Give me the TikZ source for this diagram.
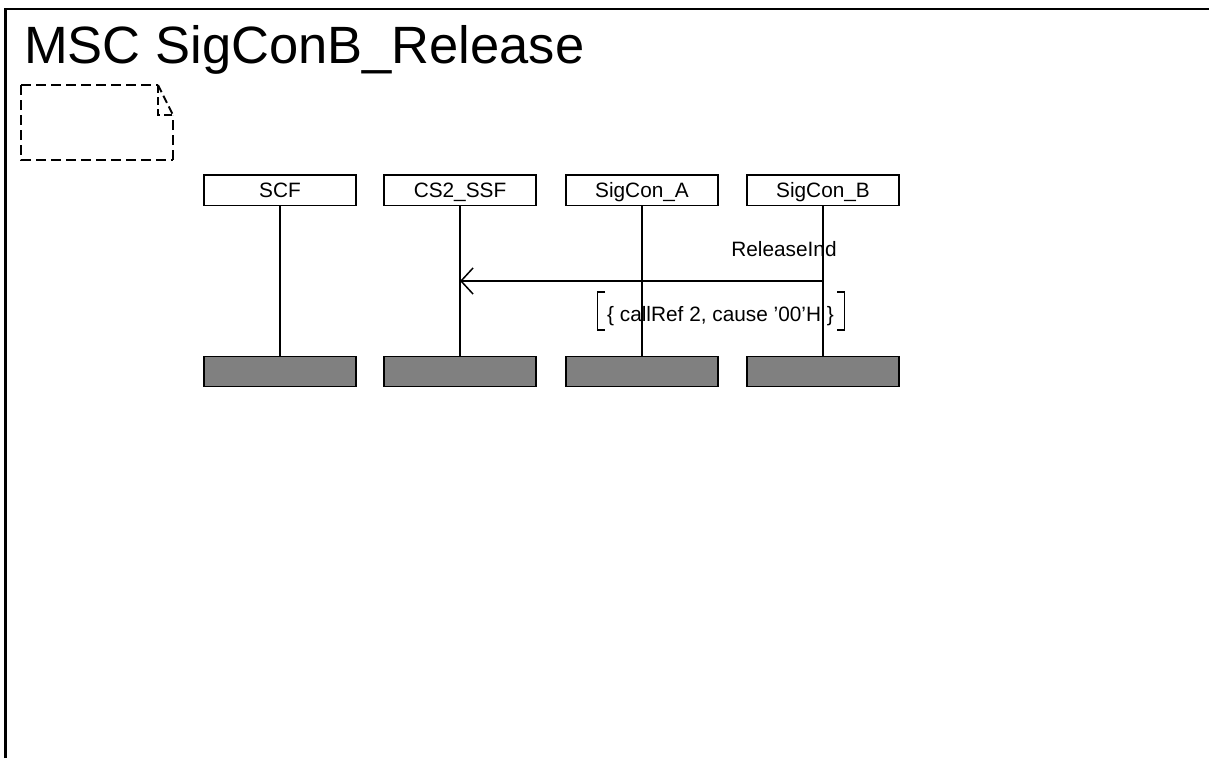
\documentclass[tikz,border=0pt]{standalone}
\usepackage{fontspec}
\setmainfont{Liberation Sans}
\usetikzlibrary{arrows.meta}
\definecolor{endgray}{HTML}{808080}
\begin{document}
\begin{tikzpicture}[x=1pt,y=-1pt,
  inst/.style={draw, line width=1.5pt, fill=white, minimum width=152pt, minimum height=30.5pt, inner sep=0pt, text height=14.7pt, text depth=0pt, font=\fontsize{20.8}{24}\selectfont},
  endbox/.style={draw, line width=1.5pt, fill=endgray, minimum width=152pt, minimum height=30pt, inner sep=0pt},
  life/.style={line width=1.5pt},
  msg/.style={line width=1.5pt, -{Straight Barb[length=12pt,width=26pt,line width=1.5pt]}},
  lbl/.style={inner sep=0pt, anchor=base, font=\fontsize{20.8}{24}\selectfont},
  frameline/.style={line width=2.4pt},
  notebox/.style={line width=2pt, dash pattern=on 10pt off 5pt}
]
\useasboundingbox (0,0) rectangle (1209,758);
% frame
\draw[frameline] (5.5,758) -- (5.5,9) -- (1209,9);
\node[inner sep=0pt, anchor=base west, font=\fontsize{52.5}{60}\selectfont] (title) at (24,63) {MSC SigConB\_Release};
% comment (note) box
\draw[notebox] (21,85) -- (158,85);
\draw[notebox] (21,85) -- (21,160) -- (173,160);
\draw[notebox] (173,160) -- (173,115);
\draw[notebox, dash pattern=on 8pt off 4pt] (158,85) -- (173,115);
\draw[notebox, dash pattern=on 8pt off 4pt] (158,85) -- (158,115) -- (173,115);
% instance heads
\node[inst] (scf) at (280,190) {SCF};
\node[inst] (ssf) at (460,190) {CS2\_SSF};
\node[inst] (sca) at (642,190) {SigCon\_A};
\node[inst] (scb) at (823,190) {SigCon\_B};
% instance ends
\node[endbox] (scfE) at (280,371.5) {};
\node[endbox] (ssfE) at (460,371.5) {};
\node[endbox] (scaE) at (642,371.5) {};
\node[endbox] (scbE) at (823,371.5) {};
% lifelines
\draw[life] (scf.south) -- (scfE.north);
\draw[life] (ssf.south) -- (ssfE.north);
\draw[life] (sca.south) -- (scaE.north);
\draw[life] (scb.south) -- (scbE.north);
% message
\coordinate (mB) at (scb.south |- 0,281);
\coordinate (mS) at (ssf.south |- 0,281);
\draw[msg] (mB) -- (mS);
\node[lbl] (mlbl) at (784,256) {ReleaseInd};
\node[lbl] (mpar) at (720.5,321.7) {\{ callRef 2, cause ’00’H \}};
\draw[line width=1.8pt] (605,292) -- (597.5,292) -- (597.5,330) -- (605,330);
\draw[line width=1.8pt] (837,292) -- (844.5,292) -- (844.5,330) -- (837,330);
\end{tikzpicture}
\end{document}
